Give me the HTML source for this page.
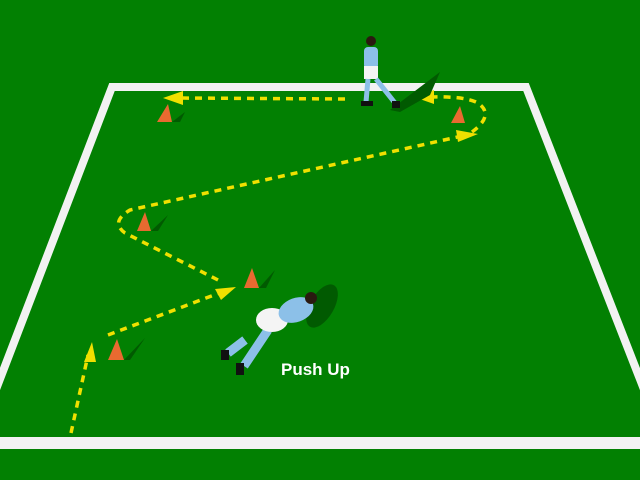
<!DOCTYPE html>
<html><head><style>html,body{margin:0;padding:0;background:#008000;overflow:hidden;width:640px;height:480px;}svg{display:block;}</style></head>
<body>
<svg width="640" height="480" viewBox="0 0 640 480" xmlns="http://www.w3.org/2000/svg">
<rect width="640" height="480" fill="#028002"/>
<g stroke="#f2f2f2" stroke-width="8" fill="none" stroke-linejoin="miter">
<polyline points="-5,392 112,87 526,87 645,392"/>
</g>
<rect x="0" y="437" width="640" height="12" fill="#f2f2f2"/>
<g stroke="#f0e000" stroke-width="3.5" stroke-dasharray="7,6" fill="none">
<path d="M71,433 L88,355"/>
<path d="M108,335 L222,292"/>
<path d="M218,280 L125,233 Q110,222 130,210 L462,136"/>
<path d="M472,132 Q495,115 478,103 Q465,96 430,97"/>
<path d="M345,99 L178,98"/>
</g>
<g fill="#f0e000">
<polygon points="92,342 84,362 96,362"/>
<polygon points="236,287 215,289 221,300"/>
<polygon points="478,134 456,130 458,142"/>
<polygon points="414,97 434,90 434,104"/>
<polygon points="163,98 183,91 183,105"/>
</g>
<g>
<polygon points="168,104 172,122 157,122" fill="#e86a30"/>
<polygon points="145,212 151,231 137,231" fill="#e86a30"/>
<polygon points="252,268 259,288 244,288" fill="#e86a30"/>
<polygon points="117,339 124,360 108,360" fill="#e86a30"/>
<polygon points="460,106 465,123 451,123" fill="#e86a30"/>
</g>
<g fill="#015a01">
<polygon points="172,122 185,112 180,122"/>
<polygon points="151,231 168,215 158,231"/>
<polygon points="259,288 275,270 266,288"/>
<polygon points="124,360 145,338 130,360"/>
<polygon points="390,110 440,72 430,95 400,112"/>
<ellipse cx="322" cy="306" rx="12" ry="24" transform="rotate(30 322 306)"/>
</g>
<circle cx="371" cy="41" r="5" fill="#2a1a10"/>
<rect x="364" y="47" width="14" height="22" rx="4" fill="#8cc0e8"/>
<rect x="364" y="66" width="14" height="13" fill="#f4f4f4"/>
<path d="M368,79 L366,102 M376,79 L395,103" stroke="#8cc0e8" stroke-width="5"/>
<rect x="361" y="101" width="12" height="5" fill="#111"/>
<rect x="392" y="101" width="8" height="7" fill="#111"/>
<path d="M245,340 L228,353 M268,330 L244,366" stroke="#8cc0e8" stroke-width="9"/>
<ellipse cx="272" cy="320" rx="16" ry="12" fill="#f4f4f4"/>
<ellipse cx="296" cy="310" rx="18" ry="12" fill="#8cc0e8" transform="rotate(-20 296 310)"/>
<circle cx="311" cy="298" r="6" fill="#2a1a10"/>
<rect x="221" y="350" width="8" height="10" fill="#111"/>
<rect x="236" y="363" width="8" height="12" fill="#111"/>
<text x="281" y="375" font-family="Liberation Sans, sans-serif" font-weight="bold" font-size="17" fill="#ffffff">Push Up</text>
</svg>
</body></html>
